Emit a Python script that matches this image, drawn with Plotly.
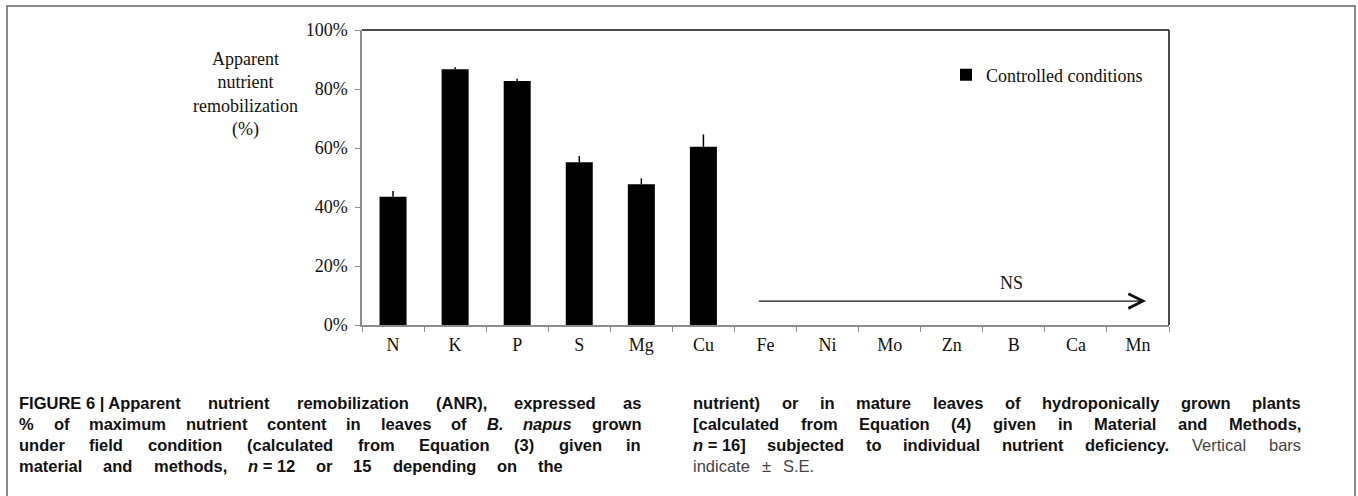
import re
import plotly.graph_objects as go

# ---------------- data ----------------
categories = ["N", "K", "P", "S", "Mg", "Cu", "Fe", "Ni", "Mo", "Zn", "B", "Ca", "Mn"]
anr_values = [43.5, 86.7, 82.7, 55.2, 47.7, 60.4, None, None, None, None, None, None, None]
anr_se = [1.9, 0.7, 0.8, 2.1, 2.0, 4.2, 0, 0, 0, 0, 0, 0, 0]
y_tick_values = [0, 20, 40, 60, 80, 100]
y_tick_labels = ["0%", "20%", "40%", "60%", "80%", "100%"]
series_name = "Controlled conditions"
y_title_lines = ["Apparent", "nutrient", "remobilization", "(%)"]
ns_label = "NS"

# caption: (text, style) tokens per line ; style b=bold, bi=bold italic, bn=bold with italic n, r=regular
caption_left = [
    [("FIGURE 6 | Apparent", "b"), ("nutrient", "b"), ("remobilization", "b"), ("(ANR),", "b"),
     ("expressed", "b"), ("as", "b")],
    [("%", "b"), ("of", "b"), ("maximum", "b"), ("nutrient", "b"), ("content", "b"), ("in", "b"),
     ("leaves", "b"), ("of", "b"), ("B.", "bi"), ("napus", "bi"), ("grown", "b")],
    [("under", "b"), ("field", "b"), ("condition", "b"), ("(calculated", "b"), ("from", "b"),
     ("Equation", "b"), ("(3)", "b"), ("given", "b"), ("in", "b")],
    [("material", "b"), ("and", "b"), ("methods,", "b"), ("n|= 12", "bn"), ("or", "b"), ("15", "b"),
     ("depending", "b"), ("on", "b"), ("the", "b")],
]
caption_right = [
    [("nutrient)", "b"), ("or", "b"), ("in", "b"), ("mature", "b"), ("leaves", "b"), ("of", "b"),
     ("hydroponically", "b"), ("grown", "b"), ("plants", "b")],
    [("[calculated", "b"), ("from", "b"), ("Equation", "b"), ("(4)", "b"), ("given", "b"), ("in", "b"),
     ("Material", "b"), ("and", "b"), ("Methods,", "b")],
    [("n|= 16]", "bn"), ("subjected", "b"), ("to", "b"), ("individual", "b"), ("nutrient", "b"),
     ("deficiency.", "b"), ("Vertical", "r"), ("bars", "r")],
    [("indicate", "r"), ("±", "r"), ("S.E.", "r")],
]

# ---------------- layout geometry (pixels) ----------------
W, H = 1358, 496
L, R, T, B = 362, 1169, 30, 325


def px(x):
    return (x - L) / (R - L)


def py(y):
    return (B - y) / (B - T)


# approximate Arial widths (per 1000 em)
_reg = {' ': 278, '%': 889, '(': 333, ')': 333, ',': 278, '.': 278, '=': 584, '[': 278, ']': 278,
        '|': 260, '±': 549}
_bold = {' ': 278, '%': 889, '(': 333, ')': 333, ',': 278, '.': 278, '=': 584, '[': 333, ']': 333,
         '|': 280, '±': 549}
for c in "0123456789":
    _reg[c] = 556
    _bold[c] = 556
_up_r = dict(zip("ABCDEFGHIJKLMNOPQRSTUVWXYZ",
                 [667, 667, 722, 722, 667, 611, 778, 722, 278, 500, 667, 556, 833, 722, 778, 667, 778,
                  722, 667, 611, 722, 667, 944, 667, 667, 611]))
_up_b = dict(zip("ABCDEFGHIJKLMNOPQRSTUVWXYZ",
                 [722, 722, 722, 722, 667, 611, 778, 722, 278, 556, 722, 611, 833, 722, 778, 667, 778,
                  722, 667, 611, 722, 667, 944, 667, 667, 611]))
_lo_r = dict(zip("abcdefghijklmnopqrstuvwxyz",
                 [556, 556, 500, 556, 556, 278, 556, 556, 222, 222, 500, 222, 833, 556, 556, 556, 556,
                  333, 500, 278, 556, 500, 722, 500, 500, 500]))
_lo_b = dict(zip("abcdefghijklmnopqrstuvwxyz",
                 [556, 611, 556, 611, 556, 333, 611, 611, 278, 278, 556, 278, 889, 611, 611, 611, 611,
                  389, 556, 333, 611, 556, 778, 556, 556, 500]))
_reg.update(_up_r); _reg.update(_lo_r)
_bold.update(_up_b); _bold.update(_lo_b)

CAP_FONT = 16.5
SERIF = "Liberation Serif, Times New Roman, serif"
SERIF_SIZE = 18


def text_width(s, bold):
    tbl = _bold if bold else _reg
    return sum(tbl.get(c, 556) for c in s) / 1000.0 * CAP_FONT


def token_markup(tok, style):
    if style == "bn":
        first, rest = tok.split("|")
        return f"<b><i>{first}</i> {rest}</b>", first + " " + rest, True
    if style == "bi":
        return f"<b><i>{tok}</i></b>", tok, True
    if style == "b":
        return f"<b>{tok}</b>", tok, True
    return tok, tok, False


annotations = []


def add_line(tokens, x0, x1, ycen, justify=True, gap_scale=1.0):
    items = []
    for tok, st in tokens:
        mk, plain, bold = token_markup(tok, st)
        items.append((mk, text_width(plain, bold), st))
    total = sum(w for _, w, _ in items)
    n = len(items)
    if justify and n > 1:
        gap = (x1 - x0 - total) / (n - 1)
    else:
        gap = text_width(" ", False) * gap_scale
    x = x0
    for mk, w, st in items:
        annotations.append(dict(
            text=mk, x=px(x), y=py(ycen), xref="paper", yref="paper",
            xanchor="left", yanchor="middle", showarrow=False, borderpad=0,
            font=dict(family="Liberation Sans, Arial, sans-serif", size=CAP_FONT,
                      color="#111111" if st != "r" else "#444444")))
        x += w + gap


line_y = [403, 424, 445, 466]
for i, toks in enumerate(caption_left):
    if i < 3:
        add_line(toks, 18, 640, line_y[i])
    else:
        add_line(toks, 18, 562, line_y[i])
for i, toks in enumerate(caption_right):
    if i < 3:
        add_line(toks, 692, 1300, line_y[i])
    else:
        add_line(toks, 692, 0, line_y[i], justify=False, gap_scale=2.6)

# y-axis title (horizontal, centered)
annotations.append(dict(
    text="<br>".join(y_title_lines), x=px(245), y=py(95), xref="paper", yref="paper",
    xanchor="center", yanchor="middle", showarrow=False, align="center",
    font=dict(family=SERIF, size=SERIF_SIZE, color="#111111")))

# NS arrow
annotations.append(dict(
    x=12.13, y=8.1, ax=5.87, ay=8.1, xref="x", yref="y", axref="x", ayref="y",
    text="", showarrow=True, arrowhead=5, arrowsize=2.2, arrowwidth=1.3, arrowcolor="#111111"))
annotations.append(dict(
    text=ns_label, x=9.97, y=14.2, xref="x", yref="y", showarrow=False,
    font=dict(family=SERIF, size=SERIF_SIZE, color="#111111")))

fig = go.Figure()
fig.add_trace(go.Bar(
    x=categories, y=anr_values, name=series_name,
    marker=dict(color="#000000", line=dict(width=0)),
    error_y=dict(type="data", symmetric=False, array=anr_se,
                 arrayminus=[0] * len(anr_se), color="#000000", thickness=1.5, width=0),
    showlegend=True,
))

shapes = [
    # plot top & right border
    dict(type="line", xref="x domain", yref="y domain", x0=0, x1=1, y0=1, y1=1,
         line=dict(color="#111111", width=1.5), layer="above"),
    dict(type="line", xref="x domain", yref="y domain", x0=1, x1=1, y0=0, y1=1,
         line=dict(color="#111111", width=1.5), layer="above"),
    # outer figure frame
    dict(type="rect", xref="paper", yref="paper", x0=px(7), x1=px(1355), y0=py(6), y1=py(505),
         line=dict(color="#666666", width=1.5), layer="above"),
]

fig.update_layout(
    width=W, height=H,
    margin=dict(l=L, r=W - R, t=T, b=H - B, pad=0),
    paper_bgcolor="white", plot_bgcolor="white",
    bargap=0.565,
    showlegend=True,
    legend=dict(x=px(946), y=py(75), xanchor="left", yanchor="middle",
                bgcolor="rgba(0,0,0,0)",
                font=dict(family=SERIF, size=SERIF_SIZE, color="#111111")),
    xaxis=dict(
        type="category", range=[-0.5, len(categories) - 0.5],
        showline=True, linecolor="#8c8c8c", linewidth=1.5,
        ticks="outside", tickcolor="#8c8c8c", ticklen=5, tickwidth=1.2,
        tickson="boundaries", showgrid=False, zeroline=False, ticklabelstandoff=3,
        tickfont=dict(family=SERIF, size=SERIF_SIZE, color="#111111"),
    ),
    yaxis=dict(
        range=[0, 100], tickvals=y_tick_values, ticktext=y_tick_labels,
        showline=True, linecolor="#8c8c8c", linewidth=1.5,
        ticks="outside", tickcolor="#8c8c8c", ticklen=5, tickwidth=1.2,
        showgrid=False, zeroline=False, ticklabelstandoff=4,
        tickfont=dict(family=SERIF, size=SERIF_SIZE, color="#111111"),
    ),
    annotations=annotations,
    shapes=shapes,
)

fig.write_html("out.html", config={"displayModeBar": False},
               post_script="document.body.style.margin='0';")
